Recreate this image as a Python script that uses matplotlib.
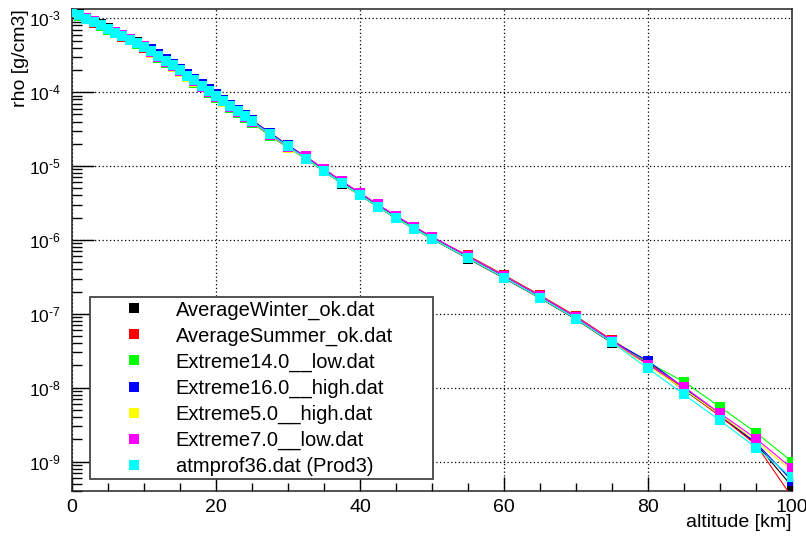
import math
import matplotlib
matplotlib.use("Agg")
import matplotlib.pyplot as plt
from matplotlib.ticker import FixedLocator, NullFormatter, FuncFormatter

plt.rcParams['font.family'] = ['Liberation Sans', 'DejaVu Sans']
plt.rcParams['mathtext.fontset'] = 'custom'
plt.rcParams['mathtext.rm'] = 'Liberation Sans'
plt.rcParams['mathtext.it'] = 'Liberation Sans'

# altitude grid [km]
altitude = [0, 1, 2, 3, 4, 5, 6, 7, 8, 9, 10, 11, 12, 13, 14, 15, 16, 17, 18, 19,
            20, 21, 22, 23, 24, 25, 27.5, 30, 32.5, 35, 37.5, 40, 42.5, 45, 47.5, 50,
            55, 60, 65, 70, 75, 80, 85, 90, 95, 100]

# density [g/cm3] per profile
rho_winter = [1.26e-3, 1.13e-3, 1.02e-3, 9.19e-4, 8.29e-4, 7.31e-4, 6.59e-4, 5.92e-4, 5.30e-4, 4.74e-4,
              4.20e-4, 3.53e-4, 3.06e-4, 2.63e-4, 2.25e-4, 1.93e-4, 1.65e-4, 1.41e-4, 1.21e-4, 1.03e-4,
              8.77e-5, 7.32e-5, 6.24e-5, 5.33e-5, 4.54e-5, 3.88e-5, 2.61e-5, 1.77e-5, 1.25e-5, 8.46e-6,
              5.79e-6, 4.01e-6, 2.79e-6, 1.96e-6, 1.41e-6, 1.03e-6, 5.59e-7, 3.04e-7, 1.63e-7, 8.43e-8,
              4.02e-8, 2.10e-8, 9.30e-9, 4.20e-9, 1.75e-9, 4.60e-10]
rho_summer = [1.20e-3, 1.08e-3, 9.70e-4, 8.74e-4, 7.89e-4, 6.96e-4, 6.27e-4, 5.64e-4, 5.05e-4, 4.51e-4,
              4.00e-4, 3.71e-4, 3.21e-4, 2.76e-4, 2.37e-4, 2.03e-4, 1.73e-4, 1.48e-4, 1.27e-4, 1.08e-4,
              9.22e-5, 7.94e-5, 6.76e-5, 5.77e-5, 4.92e-5, 4.20e-5, 2.83e-5, 1.91e-5, 1.31e-5, 8.89e-6,
              6.08e-6, 4.21e-6, 2.93e-6, 2.06e-6, 1.48e-6, 1.08e-6, 6.16e-7, 3.35e-7, 1.79e-7, 9.29e-8,
              4.43e-8, 2.20e-8, 9.60e-9, 4.10e-9, 1.70e-9, 3.30e-10]
rho_ext14_low = [1.21e-3, 1.09e-3, 9.80e-4, 8.83e-4, 7.97e-4, 7.03e-4, 6.34e-4, 5.69e-4, 5.10e-4, 4.55e-4,
                 4.04e-4, 3.38e-4, 2.93e-4, 2.52e-4, 2.16e-4, 1.85e-4, 1.58e-4, 1.35e-4, 1.16e-4, 9.87e-5,
                 8.41e-5, 7.25e-5, 6.18e-5, 5.27e-5, 4.49e-5, 3.84e-5, 2.58e-5, 1.75e-5, 1.29e-5, 8.72e-6,
                 5.97e-6, 4.13e-6, 2.88e-6, 2.02e-6, 1.45e-6, 1.06e-6, 5.99e-7, 3.26e-7, 1.74e-7, 9.03e-8,
                 4.31e-8, 2.20e-8, 1.20e-8, 5.50e-9, 2.47e-9, 1.00e-9]
rho_ext16_high = [1.23e-3, 1.11e-3, 1.00e-3, 9.01e-4, 8.13e-4, 7.17e-4, 6.46e-4, 5.81e-4, 5.20e-4, 4.65e-4,
                  4.12e-4, 3.82e-4, 3.31e-4, 2.84e-4, 2.44e-4, 2.09e-4, 1.78e-4, 1.53e-4, 1.30e-4, 1.11e-4,
                  9.49e-5, 7.86e-5, 6.70e-5, 5.72e-5, 4.87e-5, 4.16e-5, 2.80e-5, 1.90e-5, 1.34e-5, 9.06e-6,
                  6.20e-6, 4.29e-6, 2.99e-6, 2.10e-6, 1.51e-6, 1.10e-6, 5.93e-7, 3.22e-7, 1.73e-7, 8.94e-8,
                  4.26e-8, 2.30e-8, 1.00e-8, 4.30e-9, 1.80e-9, 5.50e-10]
rho_ext5_high = [1.21e-3, 1.10e-3, 9.88e-4, 8.90e-4, 8.02e-4, 7.08e-4, 6.38e-4, 5.73e-4, 5.13e-4, 4.58e-4,
                 4.06e-4, 3.42e-4, 2.96e-4, 2.55e-4, 2.19e-4, 1.87e-4, 1.60e-4, 1.37e-4, 1.17e-4, 9.98e-5,
                 8.50e-5, 7.40e-5, 6.31e-5, 5.38e-5, 4.59e-5, 3.92e-5, 2.64e-5, 1.78e-5, 1.26e-5, 8.55e-6,
                 5.85e-6, 4.05e-6, 2.82e-6, 1.98e-6, 1.42e-6, 1.04e-6, 5.70e-7, 3.10e-7, 1.66e-7, 8.60e-8,
                 4.10e-8, 2.00e-8, 9.50e-9, 4.30e-9, 1.90e-9, 7.50e-10]
rho_ext7_low = [1.24e-3, 1.12e-3, 1.01e-3, 9.10e-4, 8.21e-4, 7.24e-4, 6.53e-4, 5.87e-4, 5.25e-4, 4.69e-4,
                4.16e-4, 3.49e-4, 3.03e-4, 2.60e-4, 2.23e-4, 1.91e-4, 1.63e-4, 1.40e-4, 1.19e-4, 1.02e-4,
                8.68e-5, 7.48e-5, 6.37e-5, 5.44e-5, 4.64e-5, 3.96e-5, 2.67e-5, 1.80e-5, 1.35e-5, 9.15e-6,
                6.26e-6, 4.33e-6, 3.02e-6, 2.12e-6, 1.52e-6, 1.11e-6, 5.99e-7, 3.26e-7, 1.74e-7, 9.03e-8,
                4.31e-8, 2.05e-8, 1.03e-8, 4.50e-9, 2.05e-9, 8.10e-10]
rho_atmprof36 = [1.22e-3, 1.10e-3, 9.90e-4, 8.92e-4, 8.05e-4, 7.10e-4, 6.40e-4, 5.75e-4, 5.15e-4, 4.60e-4,
                 4.08e-4, 3.60e-4, 3.12e-4, 2.68e-4, 2.30e-4, 1.97e-4, 1.68e-4, 1.44e-4, 1.23e-4, 1.05e-4,
                 8.95e-5, 7.63e-5, 6.50e-5, 5.55e-5, 4.73e-5, 4.04e-5, 2.72e-5, 1.84e-5, 1.26e-5, 8.55e-6,
                 5.85e-6, 4.05e-6, 2.82e-6, 1.98e-6, 1.42e-6, 1.04e-6, 5.70e-7, 3.10e-7, 1.66e-7, 8.60e-8,
                 4.10e-8, 1.82e-8, 8.10e-9, 3.60e-9, 1.55e-9, 6.10e-10]

labels = ["AverageWinter_ok.dat", "AverageSummer_ok.dat", "Extreme14.0__low.dat",
          "Extreme16.0__high.dat", "Extreme5.0__high.dat", "Extreme7.0__low.dat",
          "atmprof36.dat (Prod3)"]
colors = ["#000000", "#ff0000", "#00ff00", "#0000ff", "#ffff00", "#ff00ff", "#00ffff"]
profiles = [rho_winter, rho_summer, rho_ext14_low, rho_ext16_high,
            rho_ext5_high, rho_ext7_low, rho_atmprof36]

y_major = [1e-9, 1e-8, 1e-7, 1e-6, 1e-5, 1e-4, 1e-3]
y_minor = [m * d for d in [1e-10, 1e-9, 1e-8, 1e-7, 1e-6, 1e-5, 1e-4, 1e-3]
           for m in range(2, 10) if 4.0e-10 <= m * d <= 1.336e-3]

fig = plt.figure(figsize=(8.06, 5.39), dpi=100, facecolor='white')
ax = fig.add_axes([0.0893, 0.0891, 0.8933, 0.8942])

for i, (rho, col, lab) in enumerate(zip(profiles, colors, labels)):
    ax.plot(altitude, rho, color=col, lw=0.8, marker='s', markersize=7.5,
            markeredgewidth=0, label=lab, zorder=3 + i)

ax.set_yscale('log')
ax.set_xlim(0, 100)
ax.set_ylim(4.0e-10, 1.336e-3)

# ticks, ROOT-like
ax.xaxis.set_major_locator(FixedLocator([0, 20, 40, 60, 80, 100]))
ax.xaxis.set_minor_locator(FixedLocator([5, 10, 15, 25, 30, 35, 45, 50, 55,
                                         65, 70, 75, 85, 90, 95]))
ax.yaxis.set_major_locator(FixedLocator(y_major))
ax.yaxis.set_minor_locator(FixedLocator(y_minor))
ax.yaxis.set_minor_formatter(NullFormatter())
ax.yaxis.set_major_formatter(FuncFormatter(
    lambda v, p: '$10^{\u2010%d}$' % round(-math.log10(v))))

ax.tick_params(axis='x', which='major', direction='in', length=10, width=1,
               labelsize=14, pad=6, top=False)
ax.tick_params(axis='x', which='minor', direction='in', length=5.5, width=1, top=False)
ax.tick_params(axis='y', which='major', direction='in', length=16, width=1,
               labelsize=12.5, pad=8, right=False)
ax.tick_params(axis='y', which='minor', direction='in', length=7.5, width=1, right=False)

ax.grid(True, which='major', linestyle=(0, (1, 2)), color='black', lw=0.9)
ax.set_axisbelow(True)
for s in ax.spines.values():
    s.set_linewidth(1.1)
    s.set_color('#222222')

fig.text(0.026, 0.982, 'rho [g/cm3]', rotation=90, ha='center', va='top', fontsize=14)
fig.text(0.9826, 0.031, 'altitude [km]', ha='right', va='center', fontsize=14)

leg = ax.legend(loc='lower left', bbox_to_anchor=(0.025, 0.025, 0.476, 0.373),
                mode='expand', fontsize=14.5, frameon=True, fancybox=False,
                borderpad=0.15, handlelength=4.1, handletextpad=0.0,
                labelspacing=0.34, borderaxespad=0)
for h in leg.legend_handles:
    h.set_linestyle('none')
leg.get_frame().set_edgecolor('#444444')
leg.get_frame().set_linewidth(1.3)
leg.get_frame().set_alpha(1)
leg.set_zorder(20)

fig.savefig('out.png', dpi=100, facecolor='white')
